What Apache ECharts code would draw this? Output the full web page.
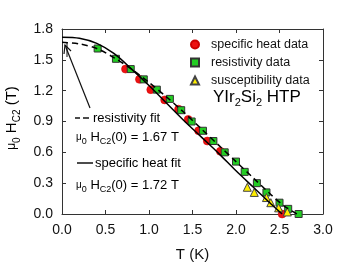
<!DOCTYPE html>
<html><head><meta charset="utf-8">
<script src="https://cdn.jsdelivr.net/npm/echarts@6/dist/echarts.min.js"></script>
<style>html,body{margin:0;padding:0;background:#fff}#c{width:338px;height:267px}</style>
</head><body><div id="c"></div>
<script>
var xTicks = [0.0, 0.5, 1.0, 1.5, 2.0, 2.5, 3.0];
var yTicks = [0.0, 0.3, 0.6, 0.9, 1.2, 1.5, 1.8];

var specT = [0.73, 0.89, 1.02, 1.18, 1.34, 1.45, 1.57, 1.67, 1.82, 2.53];
var specH = [1.41, 1.31, 1.21, 1.11, 1.02, 0.92, 0.81, 0.71, 0.61, 0.00];

var resT = [0.41, 0.62, 0.79, 0.94, 1.09, 1.24, 1.37, 1.49, 1.62, 1.74, 1.87, 2.00, 2.10, 2.24, 2.35, 2.50, 2.60, 2.72];
var resH = [1.61, 1.51, 1.41, 1.31, 1.21, 1.12, 1.01, 0.90, 0.81, 0.71, 0.60, 0.51, 0.41, 0.30, 0.21, 0.11, 0.05, 0.00];

var susT = [2.13, 2.21, 2.35, 2.40, 2.49, 2.59];
var susH = [0.26, 0.21, 0.16, 0.11, 0.06, 0.02];

var fitSpecT = [0, 0.2, 0.4, 0.6, 0.8, 1.0, 1.2, 1.4, 1.6, 1.8, 2.0, 2.2, 2.4, 2.53];
var fitSpecH = [1.72, 1.71, 1.66, 1.56, 1.41, 1.25, 1.08, 0.91, 0.75, 0.59, 0.42, 0.26, 0.10, 0.00];

var fitResT = [0, 0.2, 0.4, 0.6, 0.8, 1.0, 1.2, 1.4, 1.6, 1.8, 2.0, 2.2, 2.4, 2.55, 2.7];
var fitResH = [1.67, 1.655, 1.61, 1.52, 1.41, 1.28, 1.14, 0.99, 0.83, 0.67, 0.51, 0.35, 0.19, 0.08, 0.00];

function zip(a, b) { return a.map(function (v, i) { return [v, b[i]]; }); }

var FONT = 'Liberation Sans, Arial, sans-serif';
var AX = '#333';
var chart = echarts.init(document.getElementById('c'), null, {renderer: 'canvas'});

function axisCommon(showLabel) {
  return {
    axisLine: {show: true, onZero: false, lineStyle: {color: AX, width: 1}},
    axisTick: {show: true, inside: true, length: 4, lineStyle: {color: AX}},
    splitLine: {show: false},
    axisLabel: {show: showLabel, color: '#111', fontSize: 14, fontFamily: FONT,
      formatter: function (v) { return v.toFixed(1); }}
  };
}

var rich = {
  n: {fontSize: 13, fontFamily: FONT, color: '#111', lineHeight: 18, verticalAlign: 'middle'},
  m: {fontSize: 10, fontFamily: FONT, color: '#111', lineHeight: 18, verticalAlign: 'middle'},
  s: {fontSize: 9, fontFamily: FONT, color: '#111', lineHeight: 8, verticalAlign: 'bottom'}
};
var richBig = {
  n: {fontSize: 17, fontFamily: FONT, color: '#111', lineHeight: 22, verticalAlign: 'middle'},
  s: {fontSize: 11, fontFamily: FONT, color: '#111', lineHeight: 9, verticalAlign: 'bottom'}
};
var richY = {
  n: {fontSize: 15, fontFamily: FONT, color: '#111', lineHeight: 20, verticalAlign: 'middle'},
  m: {fontSize: 12, fontFamily: FONT, color: '#111', lineHeight: 20, verticalAlign: 'middle'},
  s: {fontSize: 10, fontFamily: FONT, color: '#111', lineHeight: 8, verticalAlign: 'bottom'}
};

var option = {
  animation: false,
  backgroundColor: '#fff',
  grid: {left: 62, right: 15, top: 29, bottom: 51, show: false},
  xAxis: [
    Object.assign({type: 'value', min: 0, max: 3, interval: 0.5, position: 'bottom',
      name: 'T (K)', nameLocation: 'middle', nameGap: 33,
      nameTextStyle: {fontSize: 15, fontFamily: FONT, color: '#111'}}, axisCommon(true),
      {axisLabel: {show: true, color: '#111', fontSize: 14, fontFamily: FONT, margin: 9,
        formatter: function (v) { return v.toFixed(1); }}}),
    Object.assign({type: 'value', min: 0, max: 3, interval: 0.5, position: 'top'}, axisCommon(false))
  ],
  yAxis: [
    Object.assign({type: 'value', min: 0, max: 1.8, interval: 0.3, position: 'left'}, axisCommon(true),
      {axisLabel: {show: true, color: '#111', fontSize: 14, fontFamily: FONT, margin: 9,
        formatter: function (v) { return v.toFixed(1); }}}),
    Object.assign({type: 'value', min: 0, max: 1.8, interval: 0.3, position: 'right'}, axisCommon(false))
  ],
  legend: {
    data: ['specific heat data', 'resistivity data', 'susceptibility data'],
    orient: 'vertical', left: 185, top: 33, itemGap: 5, itemWidth: 8, itemHeight: 8,
    textStyle: {fontSize: 12.5, fontFamily: FONT, color: '#111', padding: [0, 0, 0, 7], lineHeight: 12}
  },
  graphic: [
    {type: 'text', x: 213, y: 97, style: {text: '{n|YIr}{s|2}{n|Si}{s|2}{n| HTP}', rich: richBig, verticalAlign: 'middle'}},
    {type: 'line', shape: {x1: 75, y1: 118, x2: 80, y2: 118}, style: {stroke: '#111', lineWidth: 1.5}},
    {type: 'line', shape: {x1: 83, y1: 118, x2: 89, y2: 118}, style: {stroke: '#111', lineWidth: 1.5}},
    {type: 'text', x: 93, y: 118, style: {text: '{n|resistivity fit}', rich: rich, verticalAlign: 'middle'}},
    {type: 'text', x: 76, y: 137, style: {text: '{m|μ}{s|0}{n| H}{s|C2}{n|(0) = 1.67 T}', rich: rich, verticalAlign: 'middle'}},
    {type: 'line', shape: {x1: 77, y1: 163, x2: 93, y2: 163}, style: {stroke: '#111', lineWidth: 1.5}},
    {type: 'text', x: 95, y: 163, style: {text: '{n|specific heat fit}', rich: rich, verticalAlign: 'middle'}},
    {type: 'text', x: 76, y: 185, style: {text: '{m|μ}{s|0}{n| H}{s|C2}{n|(0) = 1.72 T}', rich: rich, verticalAlign: 'middle'}},
    {type: 'line', shape: {x1: 90, y1: 108, x2: 65, y2: 45}, style: {stroke: '#111', lineWidth: 1.2}},
    {type: 'polyline', shape: {points: [[64, 54], [65, 45], [71, 51]]}, style: {stroke: '#111', lineWidth: 1.2, fill: null}},
    {type: 'line', shape: {x1: 67, y1: 42, x2: 67, y2: 57}, style: {stroke: '#111', lineWidth: 1}},
    {type: 'text', x: 12, y: 118, rotation: Math.PI / 2,
      style: {text: '{m|μ}{s|0}{n| H}{s|C2}{n| (T)}', rich: richY, align: 'center', verticalAlign: 'middle'}}
  ],
  series: [
    {name: 'specific heat data', type: 'scatter', symbol: 'circle', symbolSize: 8, z: 2,
      itemStyle: {color: '#ee1111', borderColor: '#cc0000', borderWidth: 0.5, opacity: 1},
      data: zip(specT, specH)},
    {name: 'resistivity data', type: 'scatter', symbol: 'rect', symbolSize: 7, z: 3,
      itemStyle: {color: '#22cc22', borderColor: '#333', borderWidth: 1, opacity: 1},
      data: zip(resT, resH)},
    {name: 'susceptibility data', type: 'scatter', symbol: 'triangle', symbolSize: 8, z: 3,
      itemStyle: {color: '#ffee00', borderColor: '#444', borderWidth: 1, opacity: 1},
      data: zip(susT, susH)},
    {name: 'specific heat fit', type: 'line', smooth: 0.3, symbol: 'none', z: 5,
      lineStyle: {color: '#000', width: 1.5}, data: zip(fitSpecT, fitSpecH)},
    {name: 'resistivity fit', type: 'line', smooth: 0.3, symbol: 'none', z: 5,
      lineStyle: {color: '#000', width: 1.5, type: [6, 4]}, data: zip(fitResT, fitResH)}
  ]
};
chart.setOption(option);
</script></body></html>
